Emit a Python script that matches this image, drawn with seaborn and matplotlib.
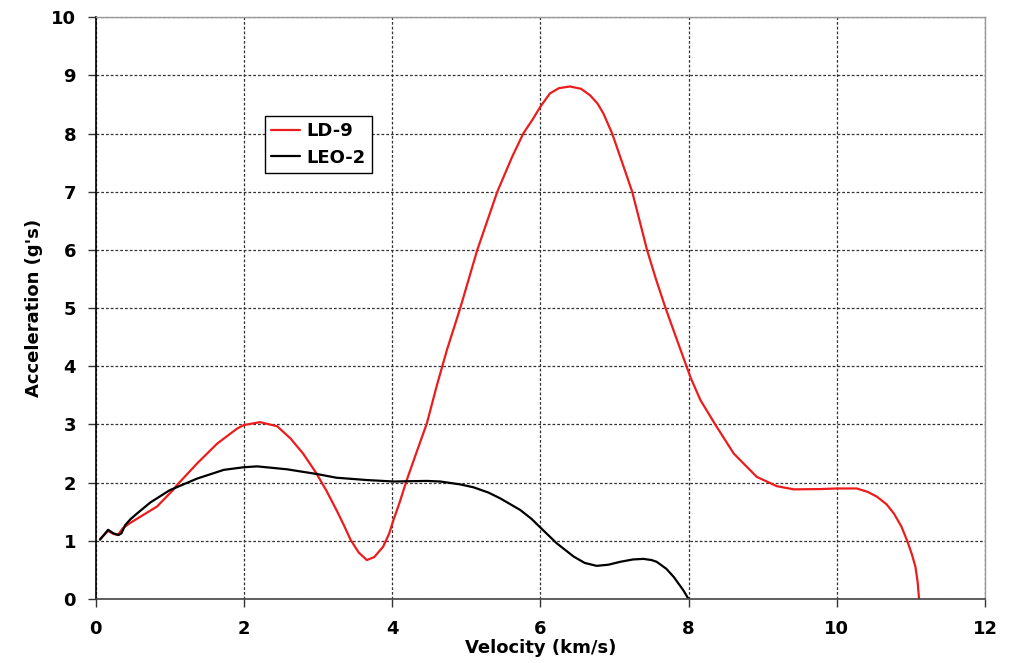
import matplotlib
matplotlib.use("Agg")
import matplotlib.pyplot as plt
import seaborn as sns
import pandas as pd

# LD-9 trajectory (velocity km/s, acceleration g)
ld9_v = [0.06, 0.17, 0.24, 0.30, 0.37, 0.47, 0.56, 0.83, 1.05, 1.10, 1.37, 1.64, 1.91, 2.00,
         2.22, 2.45, 2.63, 2.80, 2.98, 3.12, 3.25, 3.35, 3.44, 3.55, 3.66, 3.76, 3.88, 3.96,
         4.02, 4.10, 4.20, 4.33, 4.47, 4.60, 4.74, 4.92, 5.15, 5.42, 5.62, 5.77, 5.90, 6.00,
         6.13, 6.25, 6.40, 6.55, 6.67, 6.77, 6.85, 6.97, 7.10, 7.24, 7.44, 7.56, 7.69, 7.91,
         8.03, 8.16, 8.36, 8.61, 8.92, 9.19, 9.42, 9.78, 10.00, 10.27, 10.42, 10.54, 10.67,
         10.77, 10.87, 10.95, 11.01, 11.06, 11.09, 11.11]
ld9_g = [1.03, 1.17, 1.12, 1.10, 1.22, 1.31, 1.38, 1.59, 1.88, 1.96, 2.33, 2.67, 2.93, 2.99,
         3.04, 2.97, 2.76, 2.50, 2.16, 1.85, 1.53, 1.27, 1.02, 0.80, 0.67, 0.72, 0.90, 1.12,
         1.36, 1.65, 2.05, 2.52, 3.02, 3.65, 4.28, 5.00, 6.00, 7.00, 7.60, 8.00, 8.25, 8.46,
         8.69, 8.78, 8.81, 8.77, 8.66, 8.52, 8.35, 8.00, 7.52, 7.00, 6.00, 5.50, 5.00, 4.22,
         3.80, 3.42, 3.00, 2.50, 2.10, 1.94, 1.885, 1.89, 1.90, 1.90, 1.84, 1.76, 1.63,
         1.47, 1.25, 1.00, 0.78, 0.56, 0.30, 0.00]

# LEO-2 trajectory (velocity km/s, acceleration g)
leo_v = [0.06, 0.17, 0.24, 0.31, 0.35, 0.40, 0.47, 0.56, 0.74, 1.00, 1.37, 1.73, 2.00, 2.18,
         2.58, 2.98, 3.25, 3.66, 4.02, 4.47, 4.65, 4.92, 5.10, 5.30, 5.46, 5.73, 5.88, 6.00,
         6.22, 6.45, 6.60, 6.76, 6.92, 7.08, 7.25, 7.39, 7.50, 7.57, 7.70, 7.80, 7.93, 8.00]
leo_g = [1.02, 1.19, 1.13, 1.10, 1.13, 1.27, 1.37, 1.47, 1.66, 1.87, 2.07, 2.22, 2.265, 2.28,
         2.23, 2.15, 2.085, 2.045, 2.02, 2.03, 2.02, 1.97, 1.92, 1.83, 1.73, 1.53, 1.38, 1.23,
         0.96, 0.73, 0.62, 0.57, 0.59, 0.64, 0.68, 0.69, 0.67, 0.64, 0.52, 0.38, 0.15, 0.00]

series_names = ["LD-9", "LEO-2"]
series_colors = ["#ec1c1c", "#000000"]
x_ticks = [0, 2, 4, 6, 8, 10, 12]
y_ticks = list(range(0, 11))

df = pd.concat([
    pd.DataFrame({"v": ld9_v, "g": ld9_g, "s": series_names[0]}),
    pd.DataFrame({"v": leo_v, "g": leo_g, "s": series_names[1]}),
], ignore_index=True)

sns.set_style("white")
plt.rcParams["font.family"] = ["DejaVu Sans"]
plt.rcParams["text.color"] = "black"
plt.rcParams["axes.labelcolor"] = "black"
plt.rcParams["xtick.color"] = "black"
plt.rcParams["ytick.color"] = "black"

fig = plt.figure(figsize=(10.13, 6.63), dpi=100)
ax = fig.add_axes([0.0943, 0.0965, 0.8781, 0.8775])

sns.lineplot(data=df, x="v", y="g", hue="s", palette=dict(zip(series_names, series_colors)),
             sort=False, estimator=None, units="s", linewidth=1.6, ax=ax, legend=True)

ax.set_xlim(0, 12)
ax.set_ylim(0, 10)
ax.set_xticks(x_ticks)
ax.set_yticks(y_ticks)
ax.set_xticklabels([str(t) for t in x_ticks], fontweight="bold", fontsize=13)
ax.set_yticklabels([str(t) for t in y_ticks], fontweight="bold", fontsize=13)
ax.tick_params(axis="both", direction="out", length=6, width=1, color="#333333",
               labelcolor="black", bottom=True, left=True)
ax.tick_params(axis="x", pad=9)
ax.tick_params(axis="y", pad=8)

ax.grid(True, linestyle=(0, (2.2, 1.6)), color="#333333", linewidth=0.9)
ax.set_axisbelow(True)

for side in ["top", "right"]:
    ax.spines[side].set_color("#999999")
    ax.spines[side].set_linewidth(1)
ax.spines["left"].set_color("#000000")
ax.spines["left"].set_linewidth(1.2)
ax.spines["bottom"].set_color("#444444")
ax.spines["bottom"].set_linewidth(1.2)

ax.set_xlabel("Velocity (km/s)", fontweight="bold", fontsize=13, labelpad=1, color="black")
ax.set_ylabel("Acceleration (g's)", fontweight="bold", fontsize=13, labelpad=6, color="black")

leg = ax.legend(loc="upper left", bbox_to_anchor=(0.1906, 0.830), frameon=True,
                fancybox=False, shadow=False, framealpha=1, edgecolor="#000000",
                prop={"weight": "bold", "size": 13}, handlelength=1.6,
                handletextpad=0.35, borderpad=0.35, labelspacing=0.45, borderaxespad=0)
leg.get_frame().set_linewidth(1)
for t in leg.get_texts():
    t.set_color("black")
for line in leg.get_lines():
    line.set_linewidth(1.6)

fig.savefig("out.png", dpi=100, facecolor="white")
